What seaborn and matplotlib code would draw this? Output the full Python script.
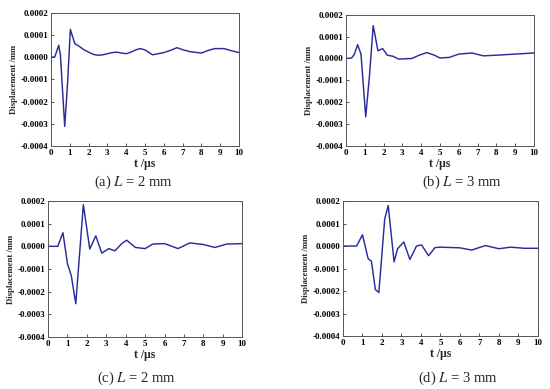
import matplotlib
matplotlib.use("Agg")
import matplotlib.pyplot as plt
import matplotlib.ticker as mticker
import seaborn as sns
import pandas as pd

# Panel (a) L = 2 mm   (displacement in 1e-4 mm)
t_a = [0, 0.2, 0.3, 0.41, 0.5, 0.73, 0.88, 1.03, 1.27, 1.5, 1.75, 2.0, 2.25, 2.5, 2.75, 3.0, 3.25, 3.5, 3.75, 4.0, 4.25,
       4.5, 4.75, 5.0, 5.4, 5.7, 6.0, 6.35, 6.7, 7.0, 7.4, 8.0, 8.3, 8.7, 9.2, 9.6, 10.0]
u_a = [0, 0.0, 0.25, 0.53, 0.1, -3.12, -1.2, 1.24, 0.6, 0.48, 0.33, 0.22, 0.12, 0.08, 0.1, 0.15, 0.2, 0.22, 0.18, 0.15, 0.22,
       0.32, 0.38, 0.32, 0.1, 0.15, 0.2, 0.3, 0.42, 0.33, 0.24, 0.18, 0.28, 0.38, 0.38, 0.28, 0.2]

# Panel (b) L = 3 mm
t_b = [0, 0.3, 0.45, 0.62, 0.8, 1.05, 1.25, 1.45, 1.7, 1.95, 2.2, 2.5, 2.8, 3.5, 3.9, 4.3, 4.7, 5.0, 5.5, 6.0, 6.7, 7.3, 8.0, 9.0, 10.0]
u_b = [0, 0.02, 0.2, 0.63, 0.2, -2.67, -0.8, 1.5, 0.35, 0.45, 0.15, 0.1, -0.03, 0.0, 0.15, 0.27, 0.15, 0.02, 0.05, 0.2, 0.25, 0.12, 0.15, 0.2, 0.25]

# Panel (c) L = 2 mm
t_c = [0, 0.5, 0.77, 1.0, 1.2, 1.43, 1.82, 2.15, 2.46, 2.77, 3.13, 3.44, 3.8, 4.05, 4.5, 5.0, 5.4, 6.0, 6.7, 7.3, 8.0, 8.6, 9.2, 10.0]
u_c = [0, 0, 0.6, -0.76, -1.3, -2.53, 1.84, -0.12, 0.46, -0.3, -0.1, -0.2, 0.12, 0.27, -0.05, -0.1, 0.1, 0.12, -0.1, 0.15, 0.08, -0.05, 0.1, 0.12]

# Panel (d) L = 3 mm
t_d = [0, 0.7, 1.0, 1.29, 1.46, 1.66, 1.84, 2.14, 2.32, 2.62, 2.8, 3.12, 3.43, 3.77, 4.03, 4.39, 4.72, 5.0, 6.0, 6.6, 7.3, 8.0, 8.6, 9.3, 10.0]
u_d = [0, 0, 0.5, -0.56, -0.68, -1.93, -2.07, 1.2, 1.8, -0.7, -0.12, 0.18, -0.6, 0.0, 0.05, -0.43, -0.07, -0.05, -0.08, -0.18, 0.02, -0.12, -0.05, -0.1, -0.1]

captions = [r"(a) $\mathit{L}$ = 2 mm", r"(b) $\mathit{L}$ = 3 mm",
            r"(c) $\mathit{L}$ = 2 mm", r"(d) $\mathit{L}$ = 3 mm"]
x_ticks = list(range(0, 11))
y_ticks = [-0.0004, -0.0003, -0.0002, -0.0001, 0.0, 0.0001, 0.0002]

sns.set_style("ticks")
plt.rcParams['font.family'] = ['Liberation Serif', 'DejaVu Serif']
plt.rcParams['mathtext.fontset'] = 'stix'
plt.rcParams['xtick.direction'] = 'in'
plt.rcParams['ytick.direction'] = 'in'

fig = plt.figure(figsize=(5.5, 3.89), dpi=100)
rects = [(0.0927, 0.6247, 0.342, 0.343),
         (0.629, 0.6247, 0.342, 0.3375),
         (0.0873, 0.1337, 0.353, 0.3496),
         (0.6236, 0.1362, 0.3545, 0.347)]
cap_pos = [(0.242, 0.532), (0.84, 0.532), (0.248, 0.028), (0.833, 0.028)]
series = [(t_a, u_a), (t_b, u_b), (t_c, u_c), (t_d, u_d)]

for i, (rect, (t, u)) in enumerate(zip(rects, series)):
    ax = fig.add_axes(rect)
    df = pd.DataFrame({"t": t, "u": [v * 1e-4 for v in u]})
    sns.lineplot(data=df, x="t", y="u", ax=ax, color="#2b2b9c", linewidth=1.05)
    ax.set_xlim(0, 10)
    ax.set_ylim(-0.0004, 0.0002)
    ax.set_xticks(x_ticks)
    ax.set_yticks(y_ticks)
    ax.yaxis.set_major_formatter(mticker.FuncFormatter(lambda v, p: f"{v:.4f}".replace("-0.0000", "0.0000")))
    ax.tick_params(labelsize=6.5, length=2, width=0.6, colors="#333333", pad=2)
    for lab in ax.get_xticklabels() + ax.get_yticklabels():
        lab.set_fontweight("bold")
        lab.set_color("black")
    for s in ax.spines.values():
        s.set_linewidth(0.7)
        s.set_color("#555555")
    ax.set_xlabel("t /μs", fontsize=8.5, fontweight="bold", labelpad=1)
    ax.set_ylabel("Displacement /mm", fontsize=6.3, fontweight="bold", labelpad=2)
    fig.text(cap_pos[i][0], cap_pos[i][1], captions[i], ha="center", va="center", fontsize=10.5)

fig.savefig("out.png", dpi=100)
